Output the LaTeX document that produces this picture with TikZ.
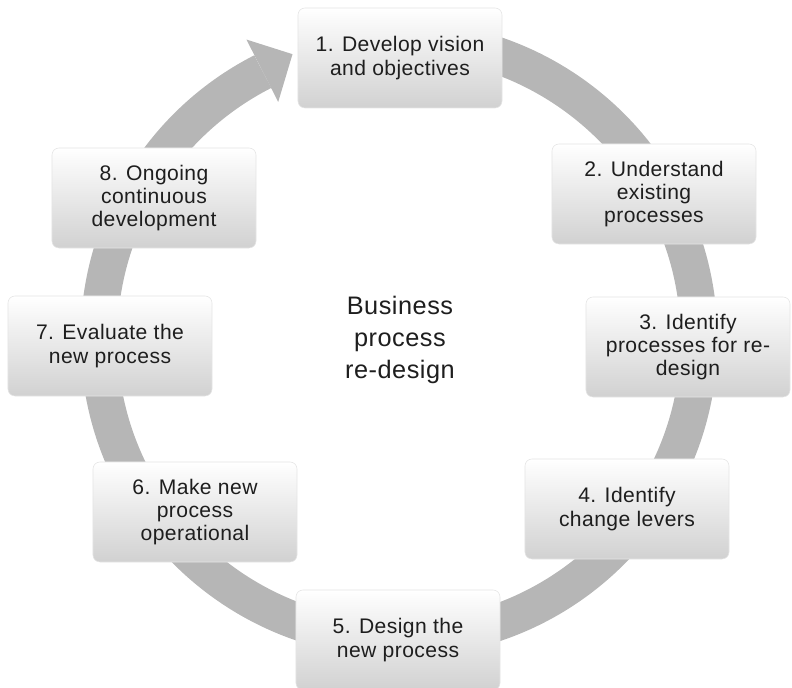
\documentclass[tikz,border=0pt]{standalone}
\usepackage{fontspec}
\setmainfont{Liberation Sans}
\newfontfamily\stagefont[LetterSpace=2]{Liberation Sans}
\usetikzlibrary{positioning}
\definecolor{ringgray}{RGB}{182,182,182}
\definecolor{textdark}{RGB}{30,30,30}

\begin{document}
\begin{tikzpicture}[
    x=0.025cm, y=0.025cm,
    stage/.style={rectangle, rounded corners=5pt, draw=black!10,
                  top color=white, bottom color=black!18,
                  minimum width=5.1cm, minimum height=2.5cm, align=center,
                  text=textdark, font=\stagefont\fontsize{15}{16.5}\selectfont},
    ring/.style={ringgray, line width=0.92cm},
    hub/.style={align=center, text=textdark,
                font=\stagefont\fontsize{18}{22.7}\selectfont}
]
\useasboundingbox (0,0) rectangle (792,688);
\coordinate (c) at (399,349);

%% Cycle ring with arrow head
\draw[ring] ([shift={(95:7.5cm)}]c) arc[start angle=95, end angle=-243, radius=7.5cm];
\fill[ringgray] ([shift={(117:8.4cm)}]c) -- ([shift={(110.5:7.6cm)}]c)
    -- ([shift={(117:6.65cm)}]c) -- cycle;

%% Stages
\node[stage] (s1) at (400,630) {1. Develop vision\\and objectives};
\node[stage] (s2) at (654,494) {2. Understand\\existing\\processes};
\node[stage] (s3) at (688,341) {3. Identify\\processes for re-\\design};
\node[stage] (s4) at (627,179) {4. Identify\\change levers};
\node[stage] (s5) at (398,48)  {5. Design the\\new process};
\node[stage] (s6) at (195,176) {6. Make new\\process\\operational};
\node[stage] (s7) at (110,342) {7. Evaluate the\\new process};
\node[stage] (s8) at (154,490) {8. Ongoing\\continuous\\development};

%% Centre label
\node[hub] (hub) at (400,348) {Business\\process\\re-design};

\end{tikzpicture}
\end{document}
